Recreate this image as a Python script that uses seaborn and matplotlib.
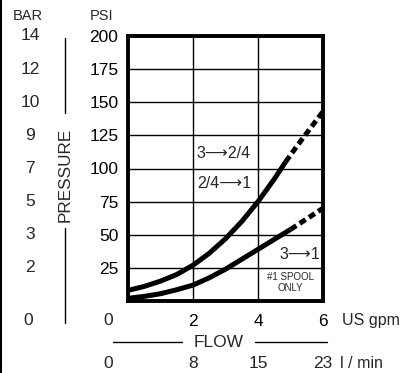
import numpy as np
import pandas as pd
import matplotlib
matplotlib.use("Agg")
import matplotlib.pyplot as plt
import matplotlib.transforms as mtransforms
from matplotlib.lines import Line2D
import seaborn as sns

# flow (US gpm) vs pressure (PSI)
upper_x = [0, 0.5, 1, 1.5, 2, 2.5, 3, 3.5, 4, 4.5, 4.85]
upper_y = [8, 11, 15, 20, 27, 36, 47, 60, 75, 92, 105]
upper_dash_x = [4.85, 5.2, 5.6, 6]
upper_dash_y = [105, 117, 130, 143]

lower_x = [0, 0.5, 1, 1.5, 2, 2.5, 3, 3.5, 4, 4.5, 5]
lower_y = [2, 3.5, 5.5, 8.5, 12, 17.5, 24, 31.5, 39, 46.5, 54]
lower_dash_x = [5, 5.5, 6]
lower_dash_y = [54, 62, 70]

psi_ticks = [25, 50, 75, 100, 125, 150, 175, 200]
bar_labels = ["2", "3", "5", "7", "9", "10", "12", "14"]
gpm_ticks = [2, 4, 6]
lpm_labels = ["8", "15", "23"]

sns.set_style("white")
plt.rcParams['font.family'] = ['Liberation Sans', 'DejaVu Sans']

fig = plt.figure(figsize=(4.05, 3.73), dpi=100)
ax = fig.add_axes([128/405, 1 - 301/373, 195/405, 265/373])

lw = 3.6
dash = (0, (1.4, 0.8))
sns.lineplot(x=upper_x, y=upper_y, color="black", lw=lw, ax=ax)
sns.lineplot(x=upper_dash_x, y=upper_dash_y, color="black", lw=lw, ax=ax, linestyle=dash)
sns.lineplot(x=lower_x, y=lower_y, color="black", lw=lw, ax=ax)
sns.lineplot(x=lower_dash_x, y=lower_dash_y, color="black", lw=lw, ax=ax, linestyle=dash)
for l in ax.lines:
    l.set_dash_capstyle("butt")
    l.set_solid_capstyle("butt")
    l.set_solid_joinstyle("round")

fs = 12.5     # numbers
fu = 11.5     # unit labels

ax.set_xlim(0, 6)
ax.set_ylim(0, 200)
ax.set_xticks(gpm_ticks, labels=[str(v) for v in gpm_ticks])
ax.set_yticks(psi_ticks, labels=[str(v) for v in psi_ticks])
ax.tick_params(length=0, labelsize=fs, colors="black")
ax.tick_params(axis="y", pad=7)
ax.tick_params(axis="x", pad=9)
ax.grid(True, color="black", lw=1.0)
for s in ax.spines.values():
    s.set_visible(True)
    s.set_color("black")
    s.set_linewidth(2.8)

# shared zero label
ax.text(-0.62, -15, "0", ha="center", va="center", fontsize=fs, clip_on=False)
ax.text(6.6, -15, "US gpm", ha="left", va="center", fontsize=fu, clip_on=False)

# l/min row
for v, lab in zip(gpm_ticks, lpm_labels):
    ax.text(v, -47, lab, ha="center", va="center", fontsize=fs, clip_on=False)
ax.text(-0.62, -47, "0", ha="center", va="center", fontsize=fs, clip_on=False)
ax.text(6.52, -47, "l / min", ha="left", va="center", fontsize=fu, clip_on=False)

# FLOW label with lines
ax.text(2.8, -31, "FLOW", ha="center", va="center", fontsize=12.5, clip_on=False)
ax.plot([-0.46, 1.66], [-31, -31], color="black", lw=1.0, clip_on=False)
ax.plot([3.9, 6.12], [-31, -31], color="black", lw=1.0, clip_on=False)

# BAR column
tr = mtransforms.blended_transform_factory(fig.transFigure, ax.transData)
for p, b in zip(psi_ticks, bar_labels):
    ax.text(30/405, p, b, ha="center", va="center", fontsize=fs, transform=tr)
ax.text(28/405, -15, "0", ha="center", va="center", fontsize=fs, transform=tr)

fig.text(28/405, 1 - 16/373, "BAR", ha="center", va="center", fontsize=10.5)
fig.text(102/405, 1 - 16/373, "PSI", ha="center", va="center", fontsize=10.5)

# PRESSURE label with lines
fig.text(65/405, 1 - 175/373, "PRESSURE", rotation=90, ha="center", va="center", fontsize=12.3)
fig.add_artist(Line2D([65/405, 65/405], [1 - 38/373, 1 - 113/373], color="black", lw=1.0))
fig.add_artist(Line2D([65/405, 65/405], [1 - 228/373, 1 - 323/373], color="black", lw=1.0))

# left border
fig.add_artist(Line2D([1/405, 1/405], [0, 1], color="black", lw=1.5))

# curve annotations
arrow = "\u27f6"
ax.text(2.12, 111, f"3{arrow}2/4", ha="left", va="center", fontsize=11.5)
ax.text(2.12, 89, f"2/4{arrow}1", ha="left", va="center", fontsize=11.5)
ax.text(5.92, 35, f"3{arrow}1", ha="right", va="center", fontsize=11.5)
ax.text(5.0, 18, "#1 SPOOL", ha="center", va="center", fontsize=7)
ax.text(5.0, 10, "ONLY", ha="center", va="center", fontsize=7)

fig.savefig("out.png", dpi=100)
